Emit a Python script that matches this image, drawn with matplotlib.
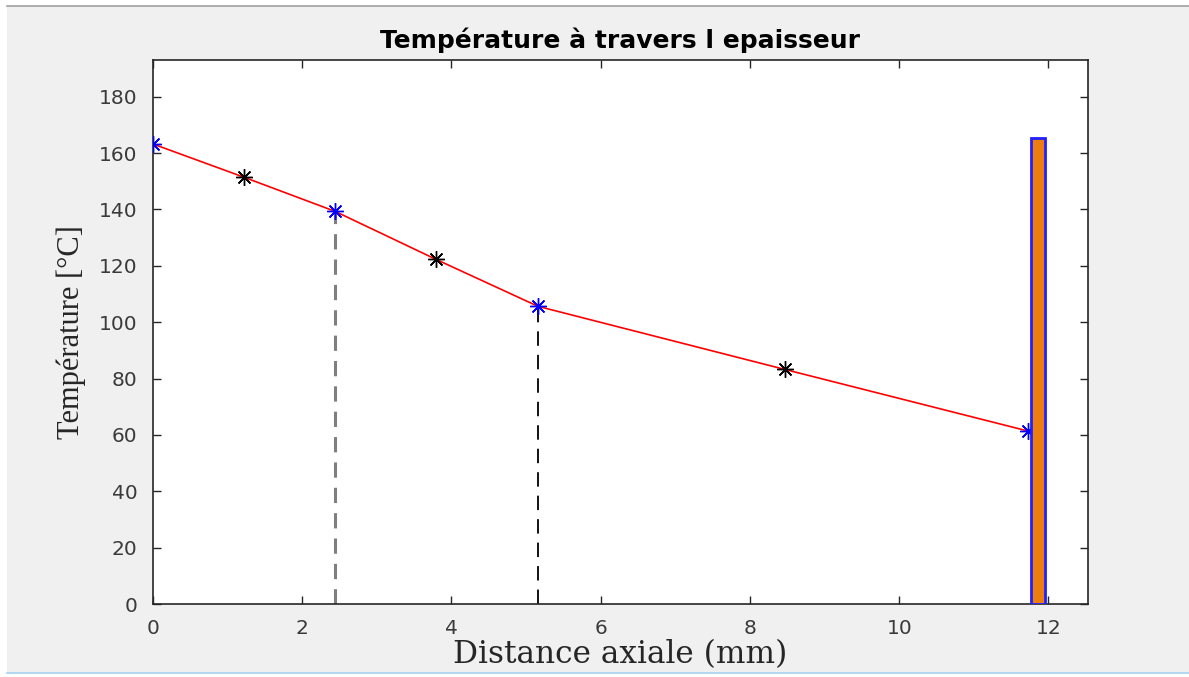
import matplotlib
matplotlib.use("Agg")
import matplotlib.pyplot as plt
from matplotlib.patches import Rectangle
from matplotlib.lines import Line2D

# data
x_interfaces = [0.0, 2.44, 5.16, 11.72]
t_interfaces = [163.2, 139.3, 105.6, 61.4]
x_mid = [1.22, 3.79, 8.47]
t_mid = [151.4, 122.3, 83.2]
x_line = [0.0, 1.22, 2.44, 3.79, 5.16, 8.47, 11.72]
t_line = [163.2, 151.4, 139.3, 122.3, 105.6, 83.2, 61.4]
bar_x0, bar_x1, bar_top = 11.76, 11.96, 165.4
xticks = [0, 2, 4, 6, 8, 10, 12]
yticks = [0, 20, 40, 60, 80, 100, 120, 140, 160, 180]

W, H = 1189, 677
fig = plt.figure(figsize=(W / 100, H / 100), dpi=100, facecolor="white")
# window background
fig.patches.append(Rectangle((7 / W, 4 / H), 1 - 7 / W, 667 / H, transform=fig.transFigure,
                             facecolor="#f0f0f0", edgecolor="none", zorder=-10))
fig.lines.append(Line2D([7 / W, 1], [1 - 6 / H, 1 - 6 / H], transform=fig.transFigure,
                        color="#a0a0a0", lw=1.2))
fig.lines.append(Line2D([7 / W, 1], [4 / H, 4 / H], transform=fig.transFigure,
                        color="#a8d0f0", lw=1.2))

ax = fig.add_axes([153 / W, 1 - 604 / H, (1088 - 153) / W, (604 - 60) / H])
ax.set_facecolor("white")

ax.plot(x_line, t_line, color="red", lw=1.2, zorder=3)
ax.plot([x_interfaces[1], x_interfaces[1]], [0, t_interfaces[1]], color="#7f7f7f",
        lw=2.2, ls=(0, (5, 3.3)), zorder=2)
ax.plot([x_interfaces[2], x_interfaces[2]], [0, t_interfaces[2]], color="black",
        lw=1.3, ls=(0, (8, 5)), zorder=2)
ax.plot(x_interfaces, t_interfaces, ls="none", marker=(8, 2, 0), color="blue",
        markersize=12, markeredgewidth=1.0, zorder=4)
ax.plot(x_mid, t_mid, ls="none", marker=(8, 2, 0), color="black",
        markersize=12, markeredgewidth=1.0, zorder=4)

ax.add_patch(Rectangle((bar_x0, 0), bar_x1 - bar_x0, bar_top, facecolor="#ee7d10",
                       edgecolor="#2020ff", lw=2, zorder=5))

ax.set_xlim(0, 12.53)
ax.set_ylim(0, 193)
ax.set_xticks(xticks)
ax.set_yticks(yticks)
ax.tick_params(direction="in", length=6, width=1, colors="#262626", labelsize=14.5,
               top=True, right=True)
ax.tick_params(axis="both", labelcolor="#3a3a3a")
ax.tick_params(axis="x", pad=11)
ax.tick_params(axis="y", pad=11)
for lab in ax.get_xticklabels() + ax.get_yticklabels():
    lab.set_fontfamily("DejaVu Sans")
for s in ax.spines.values():
    s.set_color("#262626")
    s.set_linewidth(1.2)

ax.set_title("Température à travers l epaisseur", fontfamily="DejaVu Sans",
             fontweight="bold", fontsize=18, color="black", pad=8.5)
ax.set_xlabel("Distance axiale (mm)", fontfamily="DejaVu Serif", fontsize=22.5,
              color="#262626")
ax.set_ylabel("Température [°C]", fontfamily="Liberation Serif", fontsize=22,
              color="#262626")
ax.xaxis.set_label_coords(0.5, -(639 - 604) / 544)
ax.yaxis.set_label_coords(-(153 - 86) / 935, 0.5)

fig.savefig("out.png", dpi=100, facecolor=fig.get_facecolor())
